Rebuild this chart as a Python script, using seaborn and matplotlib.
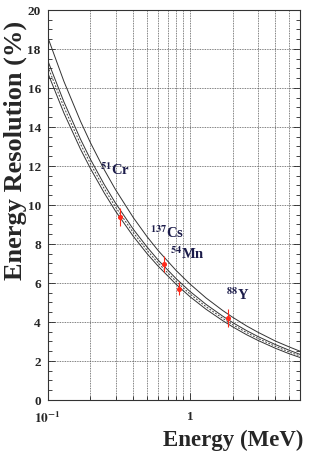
import matplotlib

matplotlib.use("Agg")
import matplotlib.pyplot as plt
import seaborn as sns
from matplotlib.ticker import FixedLocator, FixedFormatter, MultipleLocator, NullFormatter

# curve samples (energy in MeV, resolution in %)
energy = [0.1, 0.13, 0.17, 0.2, 0.25, 0.3, 0.4, 0.5, 0.6, 0.8, 1.0,
          1.3, 1.7, 2.0, 2.5, 3.0, 4.0, 5.0, 6.0]
upper = [18.6, 16.33, 14.29, 13.18, 11.80, 10.78, 9.35, 8.37, 7.65, 6.64, 5.95,
         5.23, 4.59, 4.24, 3.80, 3.48, 3.02, 2.72, 2.49]
middle = [17.4, 15.28, 13.37, 12.33, 11.04, 10.09, 8.75, 7.84, 7.16, 6.22, 5.57,
          4.90, 4.30, 3.97, 3.56, 3.26, 2.84, 2.55, 2.33]
fit = [17.1, 15.01, 13.12, 12.11, 10.83, 9.89, 8.58, 7.67, 7.01, 6.08, 5.44,
       4.78, 4.19, 3.86, 3.46, 3.16, 2.75, 2.46, 2.25]
lower = [16.77, 14.71, 12.86, 11.86, 10.61, 9.68, 8.39, 7.50, 6.85, 5.93, 5.30,
         4.65, 4.07, 3.75, 3.35, 3.06, 2.65, 2.37, 2.17]

# measured sources
src_energy = [0.324, 0.662, 0.835, 1.87]
src_res = [9.37, 6.96, 5.71, 4.19]
src_err = [0.45, 0.40, 0.35, 0.46]
src_xerr = [0.006, 0.010, 0.012, 0.025]

labels = ["$^{51}$Cr", "$^{137}$Cs", "$^{54}$Mn", "$^{88}$Y"]
label_x = [0.233, 0.525, 0.73, 1.79]
label_y = [11.6, 8.35, 7.3, 5.2]

sns.set_style("white")
plt.rcParams["font.family"] = ["Liberation Serif", "DejaVu Serif"]
plt.rcParams["mathtext.fontset"] = "stix"
plt.rcParams["font.weight"] = "bold"

fig = plt.figure(figsize=(3.32, 4.64), dpi=100, facecolor="white")
ax = fig.add_axes([0.1437, 0.1358, 0.7613, 0.841])

line_kw = dict(color="#333333", linewidth=0.7, ax=ax, legend=False)
sns.lineplot(x=energy, y=upper, **line_kw)
sns.lineplot(x=energy, y=middle, **line_kw)
sns.lineplot(x=energy, y=lower, **line_kw)
sns.lineplot(x=energy, y=fit, color="#444444", linewidth=0.7, linestyle=(0, (2, 1.5)), ax=ax, legend=False)

ax.errorbar(src_energy, src_res, yerr=src_err, xerr=src_xerr, fmt="o", color="#ff2a1a",
            markersize=2.6, elinewidth=0.8, capsize=0, zorder=5)

for txt, x, y in zip(labels, label_x, label_y):
    ax.text(x, y, txt, fontsize=10.5, fontweight="bold", color="#1c1c4a")

ax.set_xscale("log")
ax.set_xlim(0.1, 6.0)
ax.set_ylim(0, 20)

ax.xaxis.set_major_locator(FixedLocator([0.1, 1.0]))
ax.xaxis.set_major_formatter(FixedFormatter([r"$\mathbf{10^{-1}}$", "1"]))
ax.xaxis.set_minor_locator(FixedLocator([0.2, 0.3, 0.4, 0.5, 0.6, 0.7, 0.8, 0.9, 2, 3, 4, 5]))
ax.xaxis.set_minor_formatter(NullFormatter())
ax.yaxis.set_major_locator(MultipleLocator(2))
ax.yaxis.set_minor_locator(MultipleLocator(0.5))

ax.grid(True, which="major", color="#555555", linestyle=(0, (1, 1)), linewidth=0.6)
ax.grid(True, which="minor", axis="x", color="#555555", linestyle=(0, (1, 1)), linewidth=0.6)

ax.tick_params(axis="y", which="both", direction="in", left=True, right=True, labelsize=9.5, pad=5)
ax.tick_params(axis="y", which="major", length=5, width=0.6)
ax.tick_params(axis="y", which="minor", length=3, width=0.6)
ax.tick_params(axis="x", which="both", direction="in", bottom=True, top=False, labelsize=9.5, pad=7)
ax.tick_params(axis="x", which="major", length=5, width=0.6)
ax.tick_params(axis="x", which="minor", length=3, width=0.6)
for lbl in ax.get_yticklabels() + ax.get_xticklabels():
    lbl.set_fontweight("bold")

for spine in ax.spines.values():
    spine.set_color("#333333")
    spine.set_linewidth(0.8)

fig.text(0.045, 0.955, "Energy Resolution (%)", rotation=90, ha="center", va="top",
         fontsize=19, fontweight="bold")
fig.text(0.915, 0.05, "Energy (MeV)", ha="right", va="center", fontsize=16.5, fontweight="bold")

fig.savefig("out.png", dpi=100, facecolor="white")
